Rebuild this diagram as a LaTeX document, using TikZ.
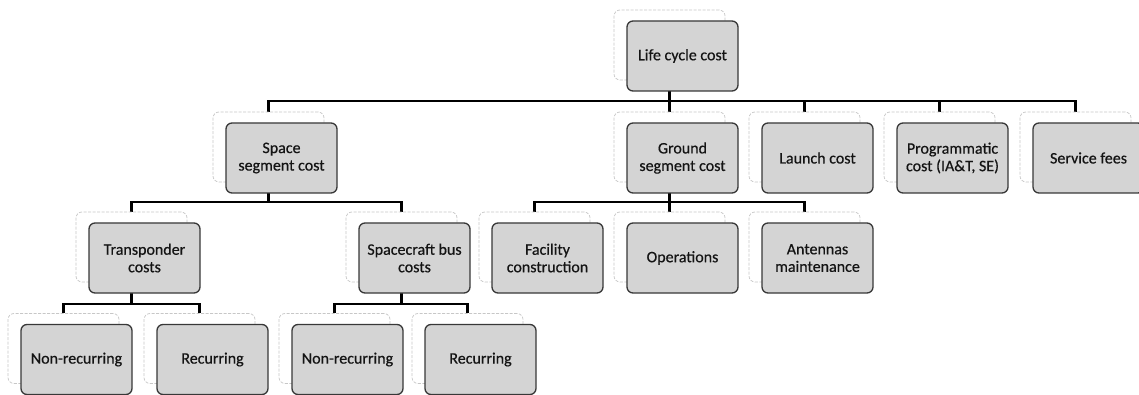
\documentclass[tikz,border=0pt]{standalone}
\usepackage{fontspec}
\setmainfont{Carlito}
\newfontfamily\boxfont{Carlito}[FakeBold=0.5,UprightFeatures={FakeBold=0.5}]
\usetikzlibrary{backgrounds,calc}
\tikzset{
  frontbox/.style={draw=black!78, line width=1.3pt, fill=black!17, rounded corners=6pt,
    minimum width=111pt, minimum height=70pt, inner sep=0pt, align=center,
    font=\boxfont\fontsize{16}{17.5}\selectfont, text=black!92},
  backbox/.style={draw=black!22, line width=0.7pt, dash pattern=on 3pt off 1.5pt,
    rounded corners=6pt, minimum width=111pt, minimum height=70pt, inner sep=0pt},
  conn/.style={draw=black, line width=2.6pt, line join=miter}
}
\newcommand\cbox[4]{%
  \node[backbox] (#1b) at (#2-13,#3-11) {};
  \node[frontbox] (#1) at (#2,#3) {#4};
}
\begin{document}
\begin{tikzpicture}[x=1pt,y=-1pt]
\clip (0,0) rectangle (1139,395);
% row 0
\cbox{lcc}{682.5}{56}{Life cycle cost}
% row 1
\cbox{ssc}{281.5}{158}{Space\\segment cost}
\cbox{gsc}{682.5}{158}{Ground\\segment cost}
\cbox{lau}{817.5}{158}{Launch cost}
\cbox{prg}{952.5}{158}{Programmatic\\cost (IA\&T, SE)}
\cbox{svc}{1088.5}{158}{Service fees}
% row 2
\cbox{trc}{144.5}{258}{Transponder\\costs}
\cbox{sbc}{414.5}{258}{Spacecraft bus\\costs}
\cbox{fac}{547.5}{258}{Facility\\construction}
\cbox{ops}{682.5}{258}{Operations}
\cbox{ant}{817.5}{258}{Antennas\\maintenance}
% row 3
\cbox{nra}{76.5}{359.5}{Non-recurring}
\cbox{rea}{212.5}{359.5}{Recurring}
\cbox{nrb}{347.5}{359.5}{Non-recurring}
\cbox{reb}{480.5}{359.5}{Recurring}
% bus levels
\coordinate (busA) at (0,101);
\coordinate (busB) at (0,202);
\coordinate (busC) at (0,304);
\begin{pgfonlayer}{background}
  \fill[white] (0,0) rectangle (1139,395);
  \draw[conn] (lccb.south) -- (lccb.south |- busA);
  \foreach \c in {ssc,gsc,lau,prg,svc} \draw[conn] (\c b.north) |- (lccb.south |- busA);
  \draw[conn] (sscb.south) -- (sscb.south |- busB);
  \foreach \c in {trc,sbc} \draw[conn] (\c b.north) |- (sscb.south |- busB);
  \draw[conn] (gscb.south) -- (gscb.south |- busB);
  \foreach \c in {fac,ops,ant} \draw[conn] (\c b.north) |- (gscb.south |- busB);
  \draw[conn] (trcb.south) -- (trcb.south |- busC);
  \foreach \c in {nra,rea} \draw[conn] (\c b.north) |- (trcb.south |- busC);
  \draw[conn] (sbcb.south) -- (sbcb.south |- busC);
  \foreach \c in {nrb,reb} \draw[conn] (\c b.north) |- (sbcb.south |- busC);
\end{pgfonlayer}
\end{tikzpicture}
\end{document}
